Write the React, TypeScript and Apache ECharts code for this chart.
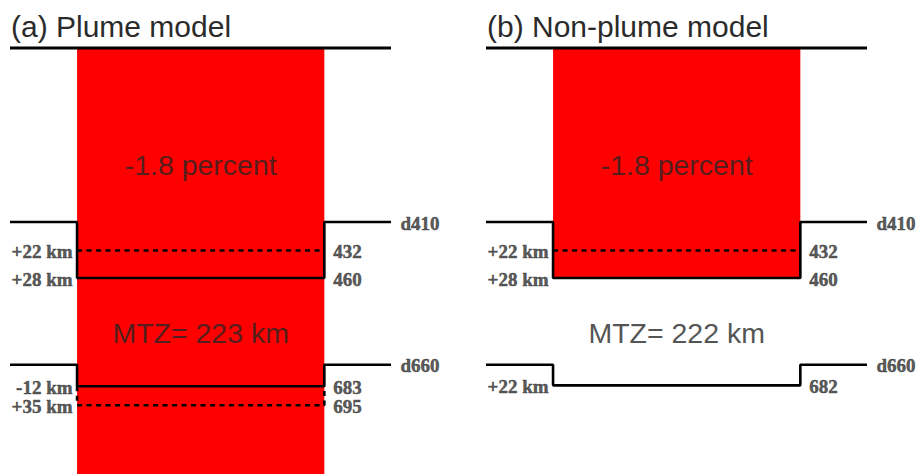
import React, { useEffect, useRef } from "react";
import * as echarts from "echarts";

// ---------- data ----------
const PANEL_TITLES = ["(a) Plume model", "(b) Non-plume model"];
const ANOMALY_TEXT = ["-1.8 percent", "-1.8 percent"];
const MTZ_KM = [223, 222];
const DISCONTINUITY_NAMES = ["d410", "d660"];
const NOMINAL_DEPTHS = [410, 660];
const D410_DASHED = [432, 432];
const D410_SOLID = [460, 460];
const D410_LEVELS = [[432, 460], [432, 460]];
const D410_LABELS = [["+22 km", "+28 km"], ["+22 km", "+28 km"]];
const D660_SOLID = [683, 682];
const D660_DASHED: (number | null)[] = [695, null];
const D660_LEVELS = [[683, 695], [682]];
const D660_LABELS = [["-12 km", "+35 km"], ["+22 km"]];
const SECTION_TOP = 200;
const SECTION_BOTTOM = 800;
const COLUMN_BASE = [SECTION_BOTTOM, 460];

// ---------- schematic layout (not to scale) ----------
const DEPTH_KNOTS = [200, 410, 432, 460, 660, 683, 695, 800];
const ROW_KNOTS = [48, 222, 250.5, 278, 364.7, 386.3, 405.3, 474];
const ANOMALY_ROW = 165;
const MTZ_ROW = 333;
const COL_L = 0.176;
const COL_R = 0.825;

function row(d: number): number {
  for (let k = 0; k < DEPTH_KNOTS.length - 1; k++) {
    const a = DEPTH_KNOTS[k], b = DEPTH_KNOTS[k + 1];
    if (d <= b || k === DEPTH_KNOTS.length - 2) {
      const t = (d - a) / (b - a);
      return ROW_KNOTS[k] + t * (ROW_KNOTS[k + 1] - ROW_KNOTS[k]);
    }
  }
  return ROW_KNOTS[ROW_KNOTS.length - 1];
}

const SANS = "Liberation Sans";
const SERIF = "Liberation Serif";
const LINE_W = 2.6;
const DASH = [5, 4.5];

function stepLine(nom: number, d: number) {
  return [[0, row(nom)], [COL_L, row(nom)], [COL_L, row(d)], [COL_R, row(d)], [COL_R, row(nom)], [1, row(nom)]];
}
function dashLine(start: number, d: number) {
  return [[COL_L, row(start)], [COL_L, row(d)], [COL_R, row(d)], [COL_R, row(start)]];
}

function buildOption() {
  const series: any[] = [];
  const grids: any[] = [];
  const xAxes: any[] = [];
  const yAxes: any[] = [];
  const titles: any[] = [];
  const gridLefts = [10, 486];

  PANEL_TITLES.forEach((title, i) => {
    grids.push({ left: gridLefts[i], width: 381, top: 0, height: 474 });
    xAxes.push({ gridIndex: i, type: "value", min: 0, max: 1, show: false });
    yAxes.push({ gridIndex: i, type: "value", min: 0, max: 474, inverse: true, show: false });
    titles.push({
      text: title,
      left: gridLefts[i] + 1,
      top: 11,
      padding: 0,
      textStyle: { fontSize: 30, fontWeight: "normal", color: "#2b2b2b", fontFamily: SANS },
    });

    // red anomaly column
    series.push({
      type: "custom",
      xAxisIndex: i,
      yAxisIndex: i,
      z: 1,
      data: [[COL_L, row(SECTION_TOP), COL_R, row(COLUMN_BASE[i])]],
      renderItem: (_p: any, api: any) => {
        const p0 = api.coord([api.value(0), api.value(1)]);
        const p1 = api.coord([api.value(2), api.value(3)]);
        return {
          type: "rect",
          shape: { x: p0[0], y: p0[1], width: p1[0] - p0[0], height: p1[1] - p0[1] },
          style: { fill: "#ff0000" },
        };
      },
    });

    const lineBase = {
      type: "line",
      xAxisIndex: i,
      yAxisIndex: i,
      symbol: "none",
      z: 3,
      silent: true,
    };
    // top line
    series.push({
      ...lineBase,
      data: [[0, row(SECTION_TOP)], [1, row(SECTION_TOP)]],
      lineStyle: { color: "#000", width: 3 },
    });
    // d410
    series.push({
      ...lineBase,
      data: stepLine(NOMINAL_DEPTHS[0], D410_SOLID[i]),
      lineStyle: { color: "#000", width: LINE_W },
    });
    series.push({
      ...lineBase,
      data: dashLine(Math.min(D410_DASHED[i], D410_SOLID[i]), D410_DASHED[i]),
      lineStyle: { color: "#000", width: LINE_W, type: DASH },
    });
    // d660
    series.push({
      ...lineBase,
      data: stepLine(NOMINAL_DEPTHS[1], D660_SOLID[i]),
      lineStyle: { color: "#000", width: LINE_W },
    });
    const dd = D660_DASHED[i];
    if (dd !== null) {
      series.push({
        ...lineBase,
        data: dashLine(Math.min(dd, D660_SOLID[i]), dd),
        lineStyle: { color: "#000", width: LINE_W, type: DASH },
      });
    }

    // labels
    const serifLabel = {
      fontFamily: SERIF,
      fontWeight: "bold",
      fontSize: 19,
      color: "#2e2e2e",
      textBorderColor: "#2e2e2e",
      textBorderWidth: 0.5,
    };
    const labelData: any[] = [];
    const levels = [D410_LEVELS[i], D660_LEVELS[i]];
    const leftTexts = [D410_LABELS[i], D660_LABELS[i]];
    levels.forEach((lv, g) => {
      lv.forEach((d, k) => {
        labelData.push({
          name: leftTexts[g][k],
          value: [COL_L, row(d)],
          label: { position: "left", distance: 4, offset: [0, 1], ...serifLabel },
        });
        labelData.push({
          name: String(d),
          value: [COL_R, row(d)],
          label: { position: "right", distance: 8.5, offset: [0, 1], ...serifLabel },
        });
      });
    });
    DISCONTINUITY_NAMES.forEach((nm, g) => {
      labelData.push({
        name: nm,
        value: [1, row(NOMINAL_DEPTHS[g])],
        label: { position: "right", distance: 9, offset: [0, 1], ...serifLabel },
      });
    });
    const mid = (COL_L + COL_R) / 2;
    const sansLabel = { fontFamily: SANS, fontSize: 28.5, color: "#262626", position: "inside" };
    labelData.push({ name: ANOMALY_TEXT[i], value: [mid, ANOMALY_ROW], label: sansLabel });
    labelData.push({ name: `MTZ= ${MTZ_KM[i]} km`, value: [mid, MTZ_ROW], label: sansLabel });

    series.push({
      type: "scatter",
      xAxisIndex: i,
      yAxisIndex: i,
      symbolSize: 1,
      z: 5,
      silent: true,
      itemStyle: { color: "rgba(0,0,0,0)" },
      label: { show: true, formatter: "{b}" },
      data: labelData,
    });
  });

  return {
    animation: false,
    backgroundColor: "#ffffff",
    title: titles,
    grid: grids,
    xAxis: xAxes,
    yAxis: yAxes,
    series,
  };
}

export default function App() {
  const ref = useRef<HTMLDivElement>(null);
  useEffect(() => {
    if (!ref.current) return;
    const chart = echarts.init(ref.current, undefined, { renderer: "svg" });
    chart.setOption(buildOption() as any);
    return () => chart.dispose();
  }, []);
  return (
    <div
      ref={ref}
      style={{ position: "absolute", left: 0, top: 0, width: 919, height: 474, background: "#fff" }}
    />
  );
}
